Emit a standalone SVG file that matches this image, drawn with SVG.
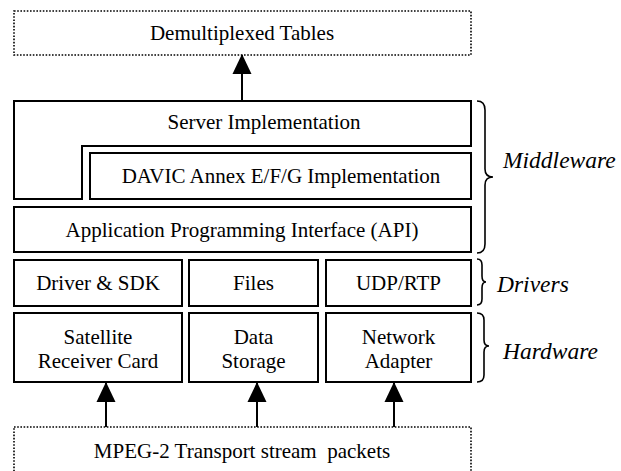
<svg xmlns="http://www.w3.org/2000/svg" width="621" height="471" viewBox="0 0 621 471">
<style>
.box{fill:#fff;stroke:#000;stroke-width:2}
.dot{fill:#fff;stroke:#000;stroke-width:1.6;stroke-dasharray:1.6 1.6}
.t{font-family:"Liberation Serif","Times New Roman",serif;font-size:21px;fill:#000;text-anchor:middle}
.it{font-family:"Liberation Serif","Times New Roman",serif;font-size:23.5px;font-style:italic;fill:#000}
.ln{stroke:#000;stroke-width:2;fill:none}
.br{stroke:#000;stroke-width:1.6;fill:none}
</style>
<defs>
<marker id="ah" markerWidth="20" markerHeight="21" refX="20" refY="10" orient="auto" markerUnits="userSpaceOnUse" viewBox="0 0 21 20">
<path d="M0,0 L21,10 L0,20 Z" fill="#000"/>
</marker>
</defs>
<rect width="621" height="471" fill="#fff"/>
<g id="demux"><rect class="dot" x="14" y="11" width="457" height="44"/><text class="t" x="242" y="40">Demultiplexed Tables</text></g>
<g id="server"><path class="box" d="M14,101 L471,101 L471,146 L82,146 L82,199 L14,199 Z"/><text class="t" x="264" y="129">Server Implementation</text></g>
<g id="davic"><rect class="box" x="90" y="153" width="381" height="46"/><text class="t" x="281" y="183">DAVIC Annex E/F/G Implementation</text></g>
<g id="api"><rect class="box" x="14" y="207" width="457" height="45"/><text class="t" x="242" y="237">Application Programming Interface (API)</text></g>
<g id="driver"><rect class="box" x="14" y="260" width="168" height="46"/><text class="t" x="98" y="290">Driver &amp; SDK</text></g>
<g id="files"><rect class="box" x="189" y="260" width="129" height="46"/><text class="t" x="253.5" y="290">Files</text></g>
<g id="udp"><rect class="box" x="326" y="260" width="145" height="46"/><text class="t" x="398.5" y="290">UDP/RTP</text></g>
<g id="sat"><rect class="box" x="14" y="313" width="168" height="69"/><text class="t" x="98" y="344">Satellite</text><text class="t" x="98" y="368">Receiver Card</text></g>
<g id="storage"><rect class="box" x="189" y="313" width="129" height="69"/><text class="t" x="253.5" y="344">Data</text><text class="t" x="253.5" y="368">Storage</text></g>
<g id="net"><rect class="box" x="326" y="313" width="145" height="69"/><text class="t" x="398.5" y="344">Network</text><text class="t" x="398.5" y="368">Adapter</text></g>
<g id="mpeg"><rect class="dot" x="14" y="427" width="457" height="50"/><text class="t" x="242" y="458" xml:space="preserve">MPEG-2 Transport stream  packets</text></g>
<g id="labels">
<path class="br" d="M477,101 Q485,101 485,110 L485,169 Q485,177 493,177 Q485,177 485,185 L485,244 Q485,253 477,253"/>
<text class="it" x="503" y="168">Middleware</text>
<path class="br" d="M477,259 Q482,259 482,265 L482,276 Q482,282 486,282 Q482,282 482,288 L482,299 Q482,305 477,305"/>
<text class="it" x="497" y="292">Drivers</text>
<path class="br" d="M477,313 Q484,313 484,320 L484,340 Q484,346 489,346 Q484,346 484,352 L484,375 Q484,382 477,382"/>
<text class="it" x="503" y="359">Hardware</text>
</g>
<g id="connectors">
<line class="ln" x1="242" y1="101" x2="242" y2="55" marker-end="url(#ah)"/>
<line class="ln" x1="106" y1="427" x2="106" y2="383" marker-end="url(#ah)"/>
<line class="ln" x1="257" y1="427" x2="257" y2="383" marker-end="url(#ah)"/>
<line class="ln" x1="394" y1="427" x2="394" y2="383" marker-end="url(#ah)"/>
</g>
</svg>
